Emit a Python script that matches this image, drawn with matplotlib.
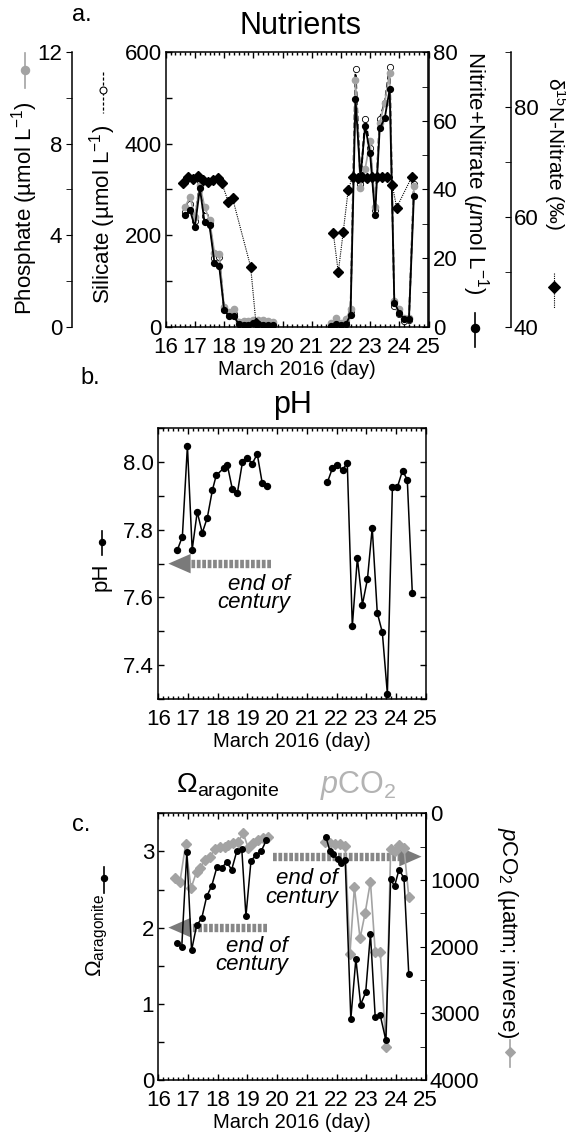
import numpy as np
import matplotlib
matplotlib.use('Agg')
import matplotlib.pyplot as plt
from matplotlib.lines import Line2D
from matplotlib.ticker import MultipleLocator, FormatStrFormatter

plt.rcParams['font.family'] = ['Liberation Sans', 'DejaVu Sans']
plt.rcParams['mathtext.fontset'] = 'custom'
plt.rcParams['mathtext.rm'] = 'Liberation Sans'
plt.rcParams['mathtext.it'] = 'Liberation Sans:italic'
plt.rcParams['mathtext.bf'] = 'Liberation Sans:bold'

# ---- nutrients (panel a) ----
day_n1 = [16.67, 16.83, 17.0, 17.17, 17.33, 17.5, 17.67, 17.83, 18.0, 18.17,
          18.33, 18.5, 18.67, 18.83, 19.0, 19.17, 19.33, 19.5, 19.67]
day_n2 = [21.67, 21.83, 22.0, 22.17, 22.33, 22.5, 22.67, 22.83, 23.0, 23.17,
          23.33, 23.5, 23.67, 23.83, 24.0, 24.17, 24.33, 24.5]
phos1 = [5.25, 5.68, 4.8, 6.2, 5.25, 4.66, 3.24, 3.18, 0.87, 0.66,
         0.76, 0.22, 0.25, 0.25, 0.3, 0.3, 0.28, 0.25, 0.22]
phos2 = [0.15, 0.37, 0.17, 0.32, 0.76, 10.8, 6.05, 6.9, 8.1, 5.25,
         8.9, 9.8, 11.1, 1.14, 0.76, 0.37, 0.37, 6.15]
sil1 = [250, 268, 232, 318, 242, 228, 150, 152, 38, 26,
        28, 10, 8, 10, 12, 12, 10, 9, 8]
sil2 = [5, 12, 6, 12, 35, 563, 312, 455, 390, 255,
        455, 490, 568, 45, 28, 12, 15, 313]
nit1 = [32.5, 34.0, 29.1, 40.3, 30.5, 29.5, 18.6, 17.8, 5.0, 3.0,
        3.0, 0.8, 0.6, 0.6, 1.2, 0.7, 0.6, 0.5, 0.5]
nit2 = [0.3, 0.8, 0.4, 0.8, 3.4, 66.3, 43.4, 58.5, 50.5, 32.6,
        57.8, 60.7, 69.2, 7.0, 4.1, 2.1, 2.1, 38.1]
day_d1 = [16.58, 16.75, 16.92, 17.12, 17.29, 17.46, 17.63, 17.80, 17.92,
          18.14, 18.29, 18.91, 19.09]
d15n1 = [66.2, 67.2, 66.9, 67.5, 66.7, 66.4, 66.7, 67.0, 66.2,
         62.8, 63.4, 50.9, 40.7]
day_d2 = [21.74, 21.91, 22.08, 22.25, 22.40, 22.57, 22.73, 22.90, 23.07,
          23.23, 23.40, 23.57, 23.76, 23.91, 24.42]
d15n2 = [57.1, 49.9, 57.3, 64.9, 67.3, 67.0, 67.3, 67.0, 67.2,
         67.3, 67.2, 67.3, 65.8, 61.7, 67.2]

# ---- pH (panel b) ----
day_ph1 = [16.64, 16.81, 16.98, 17.14, 17.31, 17.48, 17.65, 17.82, 17.95, 18.20,
           18.32, 18.49, 18.66, 18.83, 19.00, 19.16, 19.33, 19.50, 19.67]
ph1 = [7.74, 7.78, 8.048, 7.741, 7.853, 7.791, 7.836, 7.917, 7.961, 7.982,
       7.993, 7.921, 7.908, 7.999, 8.012, 7.995, 8.024, 7.937, 7.930]
day_ph2 = [21.69, 21.86, 22.03, 22.20, 22.36, 22.53, 22.70, 22.87, 23.04,
           23.20, 23.37, 23.54, 23.71, 23.88, 24.05, 24.22, 24.38, 24.55]
ph2 = [7.94, 7.982, 7.991, 7.977, 7.998, 7.515, 7.717, 7.579, 7.655,
       7.806, 7.555, 7.497, 7.315, 7.927, 7.927, 7.975, 7.948, 7.612]

# ---- omega aragonite and pCO2 (panel c) ----
day_om1 = [16.62, 16.79, 16.96, 17.12, 17.29, 17.46, 17.63, 17.80, 17.97, 18.13,
           18.30, 18.47, 18.64, 18.81, 18.95, 19.12, 19.29, 19.46, 19.64]
om1 = [1.80, 1.75, 2.99, 1.70, 2.03, 2.12, 2.41, 2.55, 2.79, 2.78,
       2.86, 2.76, 3.00, 3.03, 2.15, 2.88, 2.95, 3.00, 3.15]
day_om2 = [21.64, 21.78, 21.89, 22.04, 22.15, 22.29, 22.48, 22.65, 22.81, 22.98,
           23.14, 23.30, 23.47, 23.66, 23.82, 23.95, 24.10, 24.27, 24.43]
om2 = [3.19, 3.0, 2.96, 2.90, 2.85, 2.89, 0.80, 1.59, 0.99, 1.15,
       1.92, 0.83, 0.85, 0.52, 2.64, 2.54, 2.76, 2.65, 1.39]
day_co1 = [16.57, 16.73, 16.92, 17.10, 17.29, 17.40, 17.57, 17.74, 17.91, 18.08,
           18.25, 18.36, 18.53, 18.69, 18.86, 19.03, 19.20, 19.37, 19.54, 19.69]
pco2_1 = [975, 1025, 465, 1125, 875, 825, 700, 650, 540, 510,
          510, 475, 450, 425, 300, 525, 450, 400, 375, 350]
day_co2 = [21.61, 21.78, 21.95, 22.12, 22.29, 22.45, 22.60, 22.79, 22.96,
           23.14, 23.30, 23.47, 23.66, 23.82, 23.98, 24.10, 24.27, 24.43]
pco2_2 = [425, 450, 460, 460, 485, 2110, 1110, 1875, 1500,
          1025, 2075, 2075, 3510, 540, 560, 480, 520, 1250]

GREY = '#a3a3a3'
ARROW = '#878787'
TICK = 16
LAB = 16
W, H = 566, 1137

fig = plt.figure(figsize=(W / 100, H / 100), dpi=100)


def fx(px):
    return px / W


def fy(py):
    return 1 - py / H


def box(l, t, r, b):
    return [l / W, 1 - b / H, (r - l) / W, (b - t) / H]


def style(ax):
    ax.set_xlim(16, 25)
    ax.xaxis.set_major_locator(MultipleLocator(1))
    ax.xaxis.set_minor_locator(MultipleLocator(1 / 6))
    ax.tick_params(axis='both', which='both', direction='in', top=True,
                   labelsize=TICK, width=1)
    ax.tick_params(axis='x', which='major', length=4, pad=7.5)
    ax.tick_params(axis='x', which='minor', length=2.5)
    ax.tick_params(axis='y', which='both', length=4, pad=3)
    for s in ax.spines.values():
        s.set_linewidth(1.1)
    ax.set_xlabel('March 2016 (day)', fontsize=14.5, labelpad=1)


def two(ax, xs, ys, **kw):
    # two sampling periods, not joined across the gap
    for x, y in zip(xs, ys):
        ax.plot(x, y, **kw)


def glyph(x, y0, y1, ym, **kw):
    fig.add_artist(Line2D([fx(x), fx(x)], [fy(y0), fy(y1)], transform=fig.transFigure,
                          color=kw['color'], ls=kw.get('ls', '-'), lw=kw.get('lw', 1.2)))
    fig.add_artist(Line2D([fx(x)], [fy(ym)], transform=fig.transFigure, ls='none',
                          marker=kw['marker'], ms=kw['ms'], mfc=kw['mfc'],
                          mec=kw.get('mec', kw['color']), mew=0.8))


def arrow(ax, x_tail, x_tip, y, left=True):
    s = 1 if left else -1
    ax.plot([x_tail, x_tip + s * 0.55], [y, y], color=ARROW, lw=6,
            ls=(0, (0.45, 0.2)), dash_capstyle='butt', solid_capstyle='butt', zorder=1)
    ax.annotate('', xy=(x_tip, y), xytext=(x_tip + s * 0.6, y),
                arrowprops=dict(arrowstyle='-|>,head_length=16,head_width=7',
                                mutation_scale=1, color='#7a7a7a', lw=0,
                                shrinkA=0, shrinkB=0), zorder=1)


# ================= panel a =================
ax = fig.add_axes(box(165.7, 52.2, 428.5, 326.7))
style(ax)
ax.set_ylim(0, 600)
ax.yaxis.set_major_locator(MultipleLocator(200))
ax.yaxis.set_minor_locator(MultipleLocator(100))

ax_p = ax.twinx()
ax_n = ax.twinx()
ax_d = ax.twinx()

# phosphate axis, detached on the left
ax_p.set_ylim(0, 12)
ax_p.yaxis.tick_left()
ax_p.spines['left'].set_position(('axes', -0.357))
for k in ['right', 'top', 'bottom']:
    ax_p.spines[k].set_visible(False)
ax_p.spines['left'].set_linewidth(1.1)
ax_p.yaxis.set_major_locator(MultipleLocator(4))
ax_p.yaxis.set_minor_locator(MultipleLocator(2))
ax_p.tick_params(axis='y', which='both', direction='out', length=4, labelsize=TICK, pad=3)

# nitrite + nitrate on the right spine
ax_n.set_ylim(0, 80)
for k in ['left', 'top', 'bottom']:
    ax_n.spines[k].set_visible(False)
ax_n.spines['right'].set_linewidth(1.1)
ax_n.yaxis.set_major_locator(MultipleLocator(20))
ax_n.yaxis.set_minor_locator(MultipleLocator(10))
ax_n.tick_params(axis='y', which='both', direction='in', length=4, labelsize=TICK, pad=3)

# d15N axis, detached on the right
ax_d.set_ylim(40, 90)
ax_d.spines['right'].set_position(('axes', 1.314))
for k in ['left', 'top', 'bottom']:
    ax_d.spines[k].set_visible(False)
ax_d.spines['right'].set_linewidth(1.1)
ax_d.yaxis.set_major_locator(MultipleLocator(20))
ax_d.yaxis.set_minor_locator(MultipleLocator(10))
ax_d.tick_params(axis='y', which='both', direction='in', length=4, labelsize=TICK, pad=2)

two(ax, [day_n1, day_n2], [sil1, sil2], color='black', ls=(0, (3, 1.5)), lw=1.3,
    marker='o', ms=4.5, mfc='white', mec='black', mew=0.6)
two(ax_p, [day_n1, day_n2], [phos1, phos2], color=GREY, lw=1.2,
    marker='o', ms=4.5, mfc=GREY, mec=GREY)
two(ax_n, [day_n1, day_n2], [nit1, nit2], color='black', lw=1.3,
    marker='o', ms=4.2, mfc='black', mec='black')
two(ax_d, [day_d1, day_d2], [d15n1, d15n2], color='black', ls=(0, (1, 1)), lw=0.8,
    marker='D', ms=5.2, mfc='black', mec='black')

fig.text(fx(72), fy(15), 'a.', fontsize=17, va='center')
fig.text(fx(300), fy(26), 'Nutrients', fontsize=22, ha='center', va='center')
fig.text(fx(24.5), fy(208), 'Phosphate (µmol L$^{-1}$)', rotation=90, fontsize=LAB,
         ha='center', va='center')
glyph(24.5, 53, 88, 70, color=GREY, marker='o', ms=6, mfc=GREY)
fig.text(fx(102.6), fy(214), 'Silicate (µmol L$^{-1}$)', rotation=90, fontsize=LAB,
         ha='center', va='center')
glyph(102.6, 72, 113, 90, color='black', ls=(0, (2.5, 1.5)), lw=0.9, marker='o', ms=5,
      mfc='white')
fig.text(fx(475), fy(173), r'Nitrite+Nitrate ($\mu$mol L$^{-1}$)', rotation=270,
         fontsize=LAB, ha='center', va='center')
glyph(475.3, 313, 347, 328, color='black', marker='o', ms=6, mfc='black')
fig.text(fx(555), fy(154), 'δ$^{15}$N-Nitrate (‰)', rotation=270, fontsize=15,
         ha='center', va='center')
glyph(554, 273, 308, 287, color='black', ls=(0, (1, 1)), lw=0.8, marker='D', ms=6,
      mfc='black')

# ================= panel b =================
axb = fig.add_axes(box(158.3, 428.3, 425.7, 699))
style(axb)
axb.set_ylim(7.3, 8.1)
axb.yaxis.set_major_locator(MultipleLocator(0.2))
axb.yaxis.set_minor_locator(MultipleLocator(0.1))
axb.yaxis.set_major_formatter(FormatStrFormatter('%.1f'))
axb.tick_params(axis='y', which='both', right=True)
two(axb, [day_ph1, day_ph2], [ph1, ph2], color='black', lw=1.1,
    marker='o', ms=4.3, mfc='black', mec='black', zorder=3)
arrow(axb, 19.8, 16.34, 7.7, left=True)
axb.text(20.43, 7.612, 'end of\ncentury', ha='right', va='center', style='italic',
         fontsize=16, multialignment='right', linespacing=0.82)

fig.text(fx(80), fy(378), 'b.', fontsize=17, va='center')
fig.text(fx(292.5), fy(405), 'pH', fontsize=22, ha='center', va='center')
fig.text(fx(101), fy(577), 'pH', rotation=90, fontsize=LAB, ha='center', va='center')
glyph(101.7, 531, 555, 541.7, color='black', marker='o', ms=4.5, mfc='black')

# ================= panel c =================
axc = fig.add_axes(box(158.3, 813.3, 425.7, 1080))
axc2 = axc.twinx()
style(axc)
axc.set_ylim(0, 3.5)
axc.yaxis.set_major_locator(MultipleLocator(1))
axc.yaxis.set_minor_locator(MultipleLocator(0.5))
axc.set_zorder(axc2.get_zorder() + 1)
axc.patch.set_visible(False)

axc2.set_ylim(4000, 0)
axc2.yaxis.set_major_locator(MultipleLocator(1000))
axc2.yaxis.set_minor_locator(MultipleLocator(500))
axc2.tick_params(axis='y', which='both', direction='in', length=4, labelsize=TICK, pad=3)
for k in ['left', 'top', 'bottom']:
    axc2.spines[k].set_visible(False)
axc2.spines['right'].set_linewidth(1.1)

arrow(axc2, 19.87, 24.86, 650, left=False)
two(axc2, [day_co1, day_co2], [pco2_1, pco2_2], color=GREY, lw=1.2,
    marker='D', ms=4.6, mfc=GREY, mec=GREY, zorder=3)
arrow(axc, 19.65, 16.34, 2.0, left=True)
two(axc, [day_om1, day_om2], [om1, om2], color='black', lw=1.1,
    marker='o', ms=4.0, mfc='black', mec='black', zorder=3)
axc.text(20.37, 1.63, 'end of\ncentury', ha='right', va='center', style='italic',
         fontsize=16, multialignment='right', linespacing=0.82, zorder=4)
axc.text(22.05, 2.52, 'end of\ncentury', ha='right', va='center', style='italic',
         fontsize=16, multialignment='right', linespacing=0.82, zorder=4)

fig.text(fx(72), fy(825), 'c.', fontsize=17, va='center')
fig.text(fx(176), fy(792.7), r'$\mathregular{\Omega_{aragonite}}$', fontsize=20,
         va='baseline')
fig.text(fx(320.5), fy(792.7), r'$\mathit{p}\mathregular{CO_2}$', fontsize=22,
         va='baseline', color='#b3b3b3')
fig.text(fx(97), fy(935), r'$\mathregular{\Omega_{aragonite}}$', rotation=90,
         fontsize=LAB, ha='center', va='center')
glyph(103.7, 867, 893, 878.3, color='black', marker='o', ms=4.5, mfc='black')
fig.text(fx(507.7), fy(933), r'$\mathit{p}$CO$_2$ (µatm; inverse)', rotation=270,
         fontsize=LAB, ha='center', va='center')
glyph(509.5, 1040, 1067, 1051.7, color=GREY, marker='D', ms=5, mfc=GREY)

fig.savefig('out.png', dpi=100)
